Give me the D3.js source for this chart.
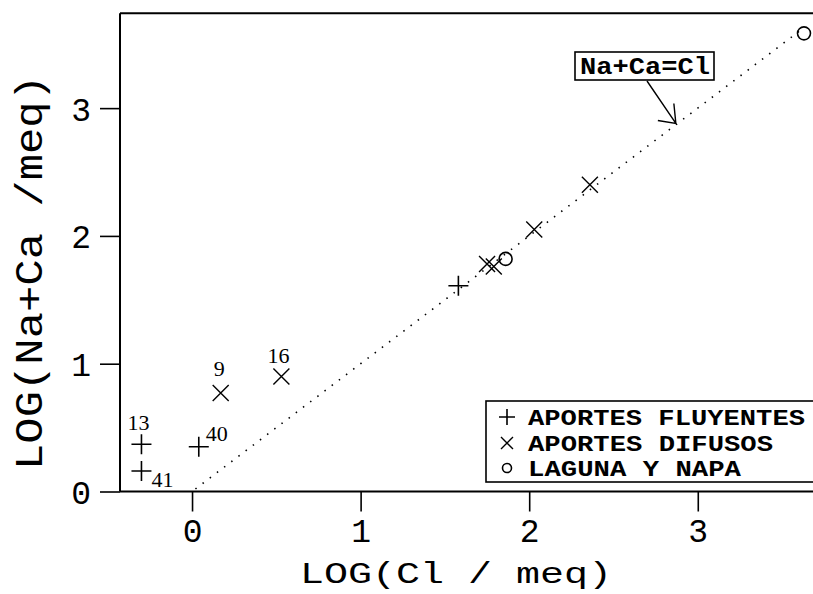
<!DOCTYPE html>
<html><head><meta charset="utf-8">
<script src="https://cdn.jsdelivr.net/npm/d3@7"></script>
<style>body{margin:0;background:#fff}svg{display:block}</style>
</head><body>
<svg id="c" width="813" height="594"></svg>
<script>
// ---- data ----
const fluyentes = [ // + APORTES FLUYENTES
  {id:"13", x:-0.30, y:0.37},
  {id:"41", x:-0.30, y:0.16},
  {id:"40", x:0.04, y:0.35},
  {id:"",   x:1.58, y:1.61}
];
const difusos = [ // x APORTES DIFUSOS
  {id:"9",  x:0.17, y:0.77},
  {id:"16", x:0.53, y:0.90},
  {id:"",   x:1.75, y:1.78},
  {id:"",   x:1.79, y:1.76},
  {id:"",   x:2.03, y:2.05},
  {id:"",   x:2.36, y:2.40}
];
const laguna = [ // o LAGUNA Y NAPA
  {id:"", x:1.86, y:1.82},
  {id:"", x:3.63, y:3.585}
];
const xTicks = [0, 1, 2, 3];
const yTicks = [0, 1, 2, 3];
const legendLabels = ["APORTES FLUYENTES", "APORTES DIFUSOS", "LAGUNA Y NAPA"];
const lineEq = [0.02, 3.60]; // Na+Ca = Cl line extent
const xTitle = "LOG(Cl / meq)";
const yTitle = "LOG(Na+Ca  /meq)";
const annoText = "Na+Ca=Cl";

// ---- drawing ----
const svg = d3.select("#c");
const x = d3.scaleLinear().domain([-0.4273, 3.6835]).range([120, 813]);
const y = d3.scaleLinear().domain([0, 3.742]).range([491.5, 13.3]);
const mono = "'Liberation Mono','Courier New',monospace";

// frame
svg.append("line").attr("x1",120).attr("x2",813).attr("y1",y(3.742)).attr("y2",y(3.742)).attr("stroke","#000").attr("stroke-width",2);
svg.append("line").attr("x1",120).attr("x2",813).attr("y1",y(0)).attr("y2",y(0)).attr("stroke","#000").attr("stroke-width",2);
svg.append("line").attr("x1",120).attr("x2",120).attr("y1",y(3.742)).attr("y2",y(0)).attr("stroke","#000").attr("stroke-width",2);

// axes
const gx = svg.append("g").attr("transform",`translate(0,${y(0)})`)
  .call(d3.axisBottom(x).tickValues(xTicks).tickFormat(d3.format("d")).tickSize(20).tickPadding(7));
const gy = svg.append("g").attr("transform","translate(120,0)")
  .call(d3.axisLeft(y).tickValues(yTicks).tickFormat(d3.format("d")).tickSize(20).tickPadding(9));
[gx, gy].forEach(g => {
  g.select(".domain").remove();
  g.selectAll(".tick line").attr("stroke","#000").attr("stroke-width",1.6);
  g.selectAll(".tick text").attr("fill","#000").style("font-family",mono).style("font-size","33px");
});
gy.selectAll(".tick text").attr("dy","0.36em");

// titles
svg.append("text").attr("x",300).attr("y",583).attr("textLength",312).attr("lengthAdjust","spacingAndGlyphs")
  .style("font-family",mono).style("font-size","30px").text(xTitle);
svg.append("text").attr("transform","translate(42,470) rotate(-90)").attr("textLength",395).attr("lengthAdjust","spacingAndGlyphs")
  .style("font-family",mono).style("font-size","39px").text(yTitle);

// 1:1 line
svg.append("line").attr("x1",x(lineEq[0])).attr("y1",y(lineEq[0])).attr("x2",x(lineEq[1])).attr("y2",y(lineEq[1]))
  .attr("stroke","#000").attr("stroke-width",1.6).attr("stroke-dasharray","1.5,7.5");

// markers
const plus = (g, s) => g.append("path").attr("d",`M${-s},0H${s}M0,${-s}V${s}`).attr("stroke","#000").attr("stroke-width",1.6).attr("fill","none");
const cross = (g, s) => g.append("path").attr("d",`M${-s},${-s}L${s},${s}M${-s},${s}L${s},${-s}`).attr("stroke","#000").attr("stroke-width",1.4).attr("fill","none");
const circ = (g, r) => g.append("circle").attr("r",r).attr("stroke","#000").attr("stroke-width",1.6).attr("fill","none");

svg.selectAll(".pf").data(fluyentes).join("g").attr("transform",d=>`translate(${x(d.x)},${y(d.y)})`).each(function(){plus(d3.select(this),10);});
svg.selectAll(".pd").data(difusos).join("g").attr("transform",d=>`translate(${x(d.x)},${y(d.y)})`).each(function(){cross(d3.select(this),8);});
svg.selectAll(".pl").data(laguna).join("g").attr("transform",d=>`translate(${x(d.x)},${y(d.y)})`).each(function(){circ(d3.select(this),6.5);});

// point labels
const lblOff = {"13":[-14,-14], "41":[10,16], "40":[7,-6], "9":[-7,-17], "16":[-14,-13]};
const serif = "'Liberation Serif','Times New Roman',serif";
svg.selectAll(".lb").data(fluyentes.concat(difusos).filter(d=>d.id)).join("text")
  .attr("x",d=>x(d.x)+lblOff[d.id][0]).attr("y",d=>y(d.y)+lblOff[d.id][1])
  .style("font-family",serif).style("font-size","22px").text(d=>d.id);

// legend
const lg = svg.append("g");
lg.append("rect").attr("x",486).attr("y",401).attr("width",330).attr("height",81).attr("fill","#fff").attr("stroke","#000").attr("stroke-width",1.6);
const rowsY = [425, 451, 476];
legendLabels.forEach((t,i)=>{
  lg.append("text").attr("x",528).attr("y",rowsY[i]).attr("textLength",[277,245,213][i]).attr("lengthAdjust","spacingAndGlyphs")
    .style("font-family",mono).style("font-weight","bold").style("font-size","22px").text(t);
  const g = lg.append("g").attr("transform",`translate(507,${rowsY[i]-8})`);
  if(i===0) plus(g,8); else if(i===1) cross(g,6); else circ(g,4.5);
});

// annotation
svg.append("rect").attr("x",575).attr("y",52).attr("width",139).attr("height",28).attr("fill","#fff").attr("stroke","#000").attr("stroke-width",1.6);
svg.append("text").attr("x",580).attr("y",74).attr("textLength",130).attr("lengthAdjust","spacingAndGlyphs")
  .style("font-family",mono).style("font-weight","bold").style("font-size","23px").text(annoText);
const ax = x(2.87), ay = y(2.88);
svg.append("path").attr("d",`M647,81L${ax},${ay}M${ax-2},${ay-20}L${ax},${ay}L${ax-18},${ay-3}`)
  .attr("stroke","#000").attr("stroke-width",1.4).attr("fill","none");
</script>
</body></html>
